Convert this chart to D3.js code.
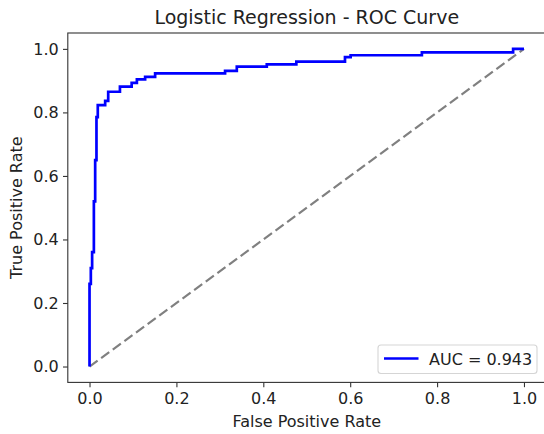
<!DOCTYPE html>
<html>
<head>
<meta charset="utf-8">
<script src="https://cdn.jsdelivr.net/npm/d3@7"></script>
<style>
  html, body { margin: 0; padding: 0; background: #fff; }
  svg { display: block; font-family: "DejaVu Sans", sans-serif; }
</style>
</head>
<body>
<svg id="chart" width="544" height="434"></svg>
<script>
// ROC corner points
const fpr = [0, 0, 0.003, 0.003, 0.006, 0.006, 0.010, 0.010, 0.013, 0.013, 0.016, 0.016,
  0.019, 0.019, 0.036, 0.036, 0.043, 0.043, 0.070, 0.070, 0.097, 0.097, 0.109, 0.109,
  0.128, 0.128, 0.151, 0.151, 0.312, 0.312, 0.339, 0.339, 0.408, 0.408, 0.476, 0.476,
  0.588, 0.588, 0.601, 0.601, 0.765, 0.765, 0.975, 0.975, 1.0];
const tpr = [0, 0.26, 0.26, 0.31, 0.31, 0.36, 0.36, 0.52, 0.52, 0.65, 0.65, 0.785,
  0.785, 0.823, 0.823, 0.836, 0.836, 0.865, 0.865, 0.881, 0.881, 0.893, 0.893, 0.904,
  0.904, 0.912, 0.912, 0.923, 0.923, 0.931, 0.931, 0.944, 0.944, 0.951, 0.951, 0.960,
  0.960, 0.974, 0.974, 0.980, 0.980, 0.989, 0.989, 1.0, 1.0];
const chanceX = [0, 1];
const chanceY = [0, 1];
const xTicks = [0, 0.2, 0.4, 0.6, 0.8, 1.0];
const yTicks = [0, 0.2, 0.4, 0.6, 0.8, 1.0];
const aucLabel = "AUC = 0.943";
const titleText = "Logistic Regression - ROC Curve";
const xLabelText = "False Positive Rate";
const yLabelText = "True Positive Rate";

(function () {
const svg = d3.select("#chart");
const pl = 67.8, pr = 545.7, pt = 33, pb = 382.4;
const x = d3.scaleLinear().domain([-0.05, 1.05]).range([pl, pr]);
const y = d3.scaleLinear().domain([-0.05, 1.05]).range([pb, pt]);
const textColor = "#222";
const fs = 16;

// diagonal
const line = d3.line().x(d => x(d[0])).y(d => y(d[1]));
svg.append("path")
  .datum(chanceX.map((v, i) => [v, chanceY[i]]))
  .attr("d", line)
  .attr("fill", "none")
  .attr("stroke", "#808080")
  .attr("stroke-width", 2.2)
  .attr("stroke-dasharray", "10,4.4");

// ROC curve
svg.append("path")
  .datum(fpr.map((v, i) => [v, tpr[i]]))
  .attr("d", line)
  .attr("fill", "none")
  .attr("stroke", "#0000ff")
  .attr("stroke-width", 2.7)
  .attr("stroke-linejoin", "miter")
  .attr("stroke-linecap", "butt");

// axes
const xAxis = d3.axisBottom(x).tickValues(xTicks).tickFormat(d3.format(".1f"))
  .tickSize(4.8).tickPadding(5.6);
const yAxis = d3.axisLeft(y).tickValues(yTicks).tickFormat(d3.format(".1f"))
  .tickSize(4.8).tickPadding(4.2);

const gx = svg.append("g").attr("transform", `translate(0,${pb})`).call(xAxis);
const gy = svg.append("g").attr("transform", `translate(${pl},0)`).call(yAxis);
[gx, gy].forEach(g => {
  g.select(".domain").remove();
  g.selectAll(".tick line").attr("stroke", "#333").attr("stroke-width", 1.1);
  g.selectAll(".tick text").attr("fill", textColor)
    .style("font-family", "DejaVu Sans").style("font-size", fs + "px");
});

// frame
svg.append("rect")
  .attr("x", pl).attr("y", pt)
  .attr("width", pr - pl).attr("height", pb - pt)
  .attr("fill", "none").attr("stroke", "#333").attr("stroke-width", 1.1);

// title & labels
svg.append("text").attr("x", (pl + pr) / 2).attr("y", 23.5)
  .attr("text-anchor", "middle").attr("fill", textColor)
  .style("font-size", "19px").text(titleText);
svg.append("text").attr("x", (pl + pr) / 2).attr("y", 427)
  .attr("text-anchor", "middle").attr("fill", textColor)
  .style("font-size", fs + "px").text(xLabelText);
svg.append("text")
  .attr("transform", `translate(22,${(pt + pb) / 2}) rotate(-90)`)
  .attr("text-anchor", "middle").attr("fill", textColor)
  .style("font-size", fs + "px").text(yLabelText);

// legend
const lg = svg.append("g");
lg.append("rect").attr("x", 378).attr("y", 345).attr("width", 159).attr("height", 28.5)
  .attr("rx", 3).attr("fill", "#fff").attr("fill-opacity", 0.8)
  .attr("stroke", "#d5d5d5").attr("stroke-width", 1.1);
lg.append("line").attr("x1", 384).attr("x2", 418.5).attr("y1", 358.5).attr("y2", 358.5)
  .attr("stroke", "#0000ff").attr("stroke-width", 2.7);
lg.append("text").attr("x", 429).attr("y", 364.5).attr("fill", textColor)
  .style("font-size", fs + "px").text(aucLabel);
})();
</script>
</body>
</html>
